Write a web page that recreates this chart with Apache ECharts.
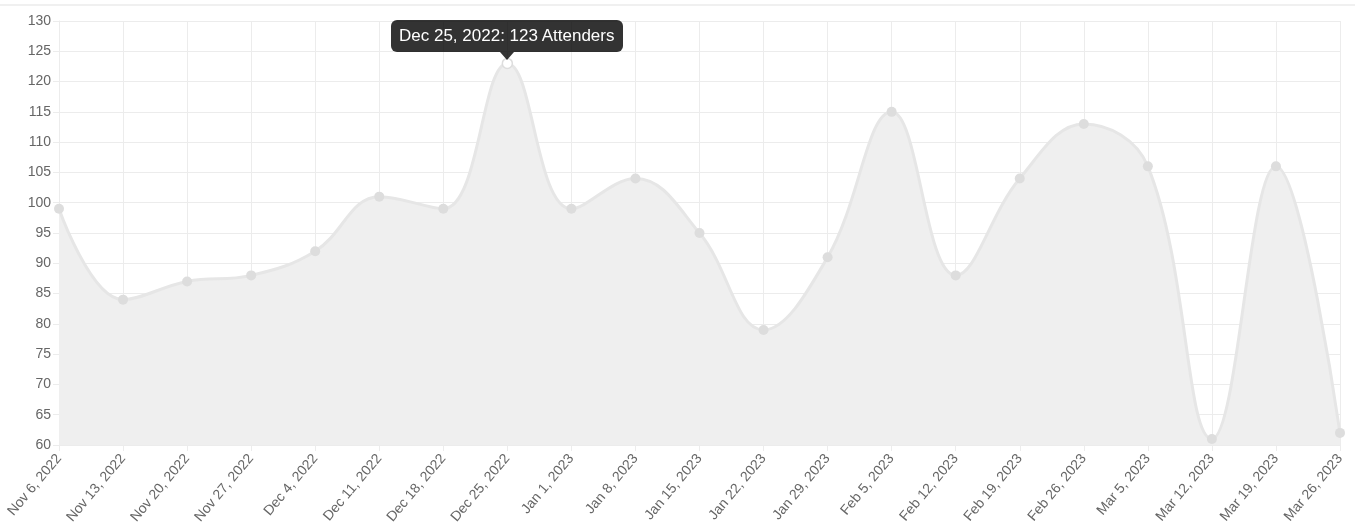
<!DOCTYPE html>
<html>
<head>
<meta charset="utf-8">
<title>Attenders</title>
<style>
    * { margin: 0; padding: 0; }
    html, body { width: 100%; height: 100%; background: #fff; }
    #main { width: 1355px; height: 529px; }
</style>
</head>
<body>
<div id="main"></div>
<script src="https://cdn.jsdelivr.net/npm/echarts@6/dist/echarts.min.js"></script>
<script>
var weeks = ['Nov 6, 2022', 'Nov 13, 2022', 'Nov 20, 2022', 'Nov 27, 2022', 'Dec 4, 2022',
    'Dec 11, 2022', 'Dec 18, 2022', 'Dec 25, 2022', 'Jan 1, 2023', 'Jan 8, 2023',
    'Jan 15, 2023', 'Jan 22, 2023', 'Jan 29, 2023', 'Feb 5, 2023', 'Feb 12, 2023',
    'Feb 19, 2023', 'Feb 26, 2023', 'Mar 5, 2023', 'Mar 12, 2023', 'Mar 19, 2023',
    'Mar 26, 2023'];
var attenders = [99, 84, 87, 88, 92, 101, 99, 123, 99, 104, 95, 79, 91, 115, 88, 104, 113, 106, 61, 106, 62];
var highlighted = 7;

var gridColor = '#ececec';
var font = 'Liberation Sans, Arial, sans-serif';
var myChart = echarts.init(document.getElementById('main'));

// the hovered point is drawn hollow, like in the screenshot
var seriesData = attenders.map(function (v, i) {
    if (i !== highlighted) return v;
    return { value: v, itemStyle: { color: '#ffffff', borderColor: '#dddddd', borderWidth: 1.5 } };
});

var option = {
    animation: false,
    textStyle: { fontFamily: font },
    graphic: [{
        type: 'line',
        shape: { x1: 0, y1: 5, x2: 1355, y2: 5 },
        style: { stroke: '#f0f0f0', lineWidth: 2 }
    }],
    grid: { left: 59, right: 15, top: 21, bottom: 84 },
    tooltip: {
        trigger: 'item',
        backgroundColor: 'rgba(0,0,0,0.8)',
        borderWidth: 0,
        padding: [6, 8],
        extraCssText: 'border-radius:6px;box-shadow:none;overflow:visible;',
        textStyle: { color: '#fff', fontSize: 17, fontFamily: font },
        position: function (pos, params, dom, rect, size) {
            return [pos[0] - size.contentSize[0] / 2, pos[1] - size.contentSize[1] - 11];
        },
        formatter: function (p) {
            return '<div style="position:relative;line-height:20px">' + p.name + ': ' + p.value + ' Attenders' +
                '<div style="position:absolute;left:50%;margin-left:-7px;bottom:-14px;width:0;height:0;' +
                'border-left:7px solid transparent;border-right:7px solid transparent;' +
                'border-top:8px solid rgba(0,0,0,0.8)"></div></div>';
        }
    },
    xAxis: {
        type: 'category',
        data: weeks,
        boundaryGap: false,
        axisLine: { lineStyle: { color: gridColor } },
        axisTick: { show: true, length: 6, lineStyle: { color: gridColor } },
        splitLine: { show: true, lineStyle: { color: gridColor } },
        axisLabel: { interval: 0, rotate: 50, margin: 11, color: '#666', fontSize: 14 }
    },
    yAxis: {
        type: 'value',
        min: 60,
        max: 130,
        interval: 5,
        axisLine: { show: true, lineStyle: { color: gridColor } },
        axisTick: { show: true, length: 6, lineStyle: { color: gridColor } },
        splitLine: { lineStyle: { color: gridColor } },
        axisLabel: { margin: 8, color: '#666', fontSize: 14 }
    },
    series: [{
        type: 'line',
        data: seriesData,
        smooth: 0.4,
        symbol: 'circle',
        symbolSize: 10,
        lineStyle: { color: '#e6e6e6', width: 3 },
        itemStyle: { color: '#dddddd' },
        areaStyle: { color: '#efefef', opacity: 1 },
        emphasis: { disabled: true }
    }]
};
myChart.setOption(option);
myChart.dispatchAction({ type: 'showTip', seriesIndex: 0, dataIndex: highlighted });
</script>
</body>
</html>
